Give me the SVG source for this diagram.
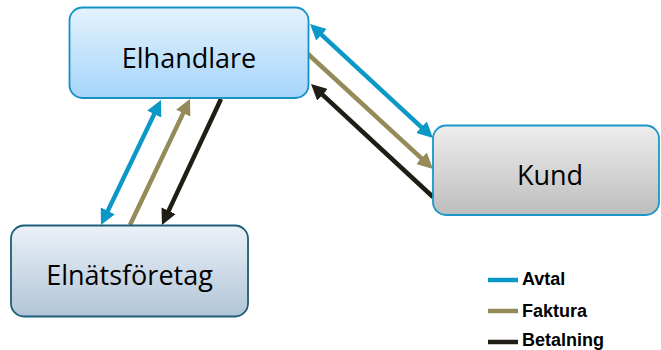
<svg xmlns="http://www.w3.org/2000/svg" width="661" height="350" viewBox="0 0 661 350">
<style>
.lbl{font-family:"Open Sans","Noto Sans",sans-serif;font-size:27px;fill:#000;text-anchor:middle}
.leg{font-family:"Liberation Sans",Arial,sans-serif;font-size:18px;font-weight:bold;fill:#000}
.c{stroke-width:4.5;fill:none;stroke-linecap:butt}
.blue{stroke:#0c98c6}
.olive{stroke:#958b58}
.black{stroke:#1f1d14}
</style>
<defs>
<linearGradient id="gEl" x1="0" y1="0" x2="0" y2="1"><stop offset="0" stop-color="#e4f2fd"/><stop offset="1" stop-color="#a5d5fa"/></linearGradient>
<linearGradient id="gKu" x1="0" y1="0" x2="0" y2="1"><stop offset="0" stop-color="#eeeeee"/><stop offset="1" stop-color="#bdbdbd"/></linearGradient>
<linearGradient id="gNa" x1="0" y1="0" x2="0" y2="1"><stop offset="0" stop-color="#ebf1f7"/><stop offset="1" stop-color="#b1c5d8"/></linearGradient>
<marker id="aBlue" viewBox="0 0 10 10" refX="6.2" refY="5" markerWidth="3.5" markerHeight="3.5" orient="auto-start-reverse"><path d="M0,0 L10,5 L0,10 z" fill="#0c98c6"/></marker>
<marker id="aOlive" viewBox="0 0 10 10" refX="6.2" refY="5" markerWidth="3.5" markerHeight="3.5" orient="auto-start-reverse"><path d="M0,0 L10,5 L0,10 z" fill="#958b58"/></marker>
<marker id="aBlack" viewBox="0 0 10 10" refX="6.2" refY="5" markerWidth="3.5" markerHeight="3.5" orient="auto-start-reverse"><path d="M0,0 L10,5 L0,10 z" fill="#1f1d14"/></marker>
</defs>
<g id="connectors">
<line class="c blue" x1="158.4" y1="105.4" x2="103.6" y2="219.6" marker-start="url(#aBlue)" marker-end="url(#aBlue)"/>
<line class="c olive" x1="130" y1="225" x2="187.4" y2="104.4" marker-end="url(#aOlive)"/>
<line class="c black" x1="221" y1="99" x2="164.5" y2="219.6" marker-end="url(#aBlack)"/>
<line class="c blue" x1="314.4" y1="28.1" x2="428.6" y2="133.9" marker-start="url(#aBlue)" marker-end="url(#aBlue)"/>
<line class="c olive" x1="308" y1="54" x2="428.6" y2="164.9" marker-end="url(#aOlive)"/>
<line class="c black" x1="433" y1="197" x2="315.4" y2="88.1" marker-end="url(#aBlack)"/>
</g>
<g id="elhandlare">
<rect x="69.5" y="7.5" width="239" height="90.5" rx="13" fill="url(#gEl)" stroke="#1591c3" stroke-width="1.8"/>
<text class="lbl" x="189" y="68">Elhandlare</text>
</g>
<g id="kund">
<rect x="433" y="125.5" width="226" height="89.5" rx="13" fill="url(#gKu)" stroke="#1a96c8" stroke-width="1.8"/>
<text class="lbl" x="550" y="185">Kund</text>
</g>
<g id="elnatsforetag">
<rect x="11" y="225.5" width="237" height="91" rx="13" fill="url(#gNa)" stroke="#1d5e78" stroke-width="1.8"/>
<text class="lbl" x="129.5" y="285">Elnätsföretag</text>
</g>
<g id="legend">
<line x1="488" y1="280" x2="518" y2="280" stroke="#0c98c6" stroke-width="4.5"/>
<text class="leg" x="522" y="285">Avtal</text>
<line x1="488" y1="311" x2="518" y2="311" stroke="#958b58" stroke-width="4.5"/>
<text class="leg" x="522" y="317">Faktura</text>
<line x1="488" y1="342" x2="518" y2="342" stroke="#1f1d14" stroke-width="4.5"/>
<text class="leg" x="522" y="346">Betalning</text>
</g>
</svg>
